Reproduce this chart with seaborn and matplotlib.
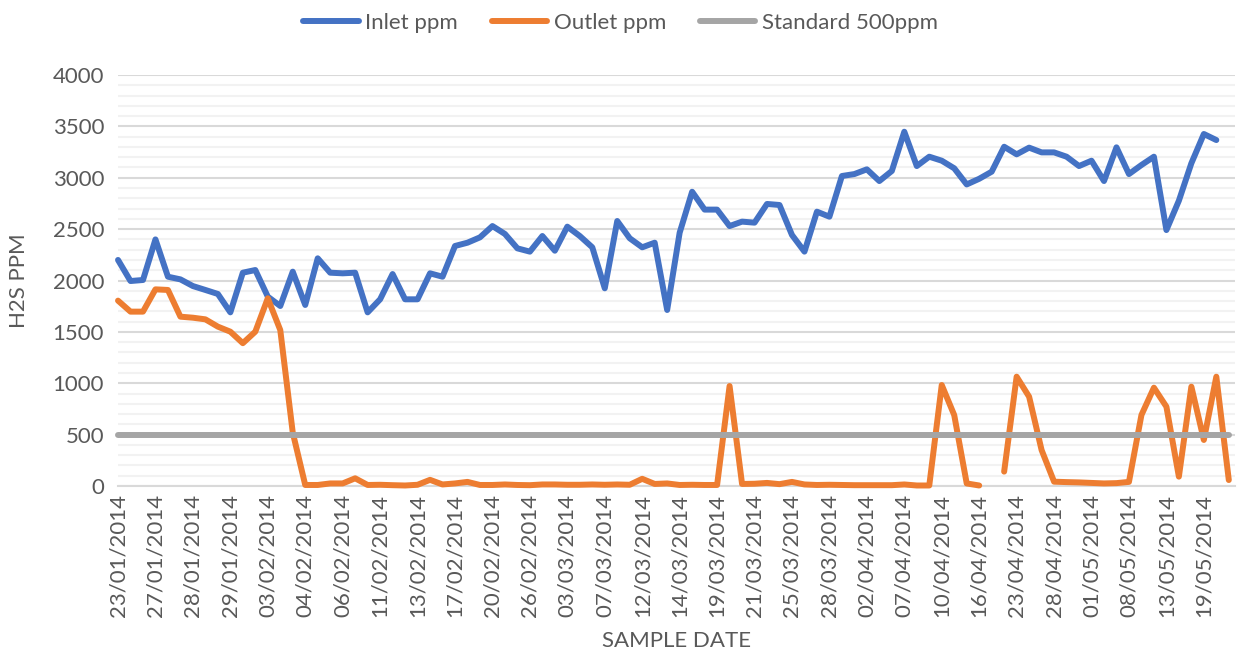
"""
H2S inlet / outlet ppm against sample date, seaborn line chart
"""
import numpy as np
import pandas as pd
import seaborn as sns
import matplotlib.pyplot as plt
from matplotlib.lines import Line2D

# tick labels (every third sample is labelled on the axis)
date_labels = ["23/01/2014", "27/01/2014", "28/01/2014", "29/01/2014", "03/02/2014",
               "04/02/2014", "06/02/2014", "11/02/2014", "13/02/2014", "17/02/2014",
               "20/02/2014", "26/02/2014", "03/03/2014", "07/03/2014", "12/03/2014",
               "14/03/2014", "19/03/2014", "21/03/2014", "25/03/2014", "28/03/2014",
               "02/04/2014", "07/04/2014", "10/04/2014", "16/04/2014", "23/04/2014",
               "28/04/2014", "01/05/2014", "08/05/2014", "13/05/2014", "19/05/2014"]
label_step = 3

inlet = [2200, 1995, 2005, 2400, 2037, 2011, 1946, 1908, 1869, 1690,
         2076, 2102, 1843, 1752, 2086, 1762, 2216, 2076, 2070, 2076,
         1690, 1817, 2063, 1817, 1817, 2070, 2037, 2336, 2368, 2420,
         2530, 2453, 2313, 2281, 2433, 2290, 2524, 2433, 2323, 1924,
         2579, 2411, 2323, 2368, 1713, 2465, 2864, 2690, 2690, 2530,
         2573, 2563, 2745, 2735, 2443, 2281, 2670, 2621, 3017, 3036,
         3082, 2968, 3066, 3448, 3114, 3205, 3166, 3092, 2935, 2990,
         3059, 3302, 3228, 3293, 3247, 3247, 3205, 3114, 3166, 2968,
         3296, 3036, 3124, 3205, 2491, 2777, 3141, 3426, 3367, np.nan]

outlet = [1804, 1697, 1697, 1914, 1908, 1648, 1638, 1622, 1551, 1502,
          1390, 1502, 1827, 1518, 520, 10, 10, 25, 25, 75,
          10, 12, 8, 5, 12, 60, 15, 25, 40, 10,
          10, 15, 10, 8, 15, 15, 12, 12, 15, 12,
          15, 12, 70, 20, 25, 10, 12, 10, 10, 973,
          20, 22, 30, 18, 40, 15, 10, 12, 10, 8,
          8, 8, 8, 15, 5, 5, 983, 690, 25, 5,
          np.nan, 140, 1064, 869, 350, 42, 38, 35, 30, 25,
          28, 40, 691, 957, 772, 91, 967, 448, 1064, 58]

standard = 500

sample = np.arange(len(inlet))

df = pd.DataFrame({"sample": sample, "inlet": inlet, "outlet": outlet})
df["standard"] = standard
# break lines where a value is missing
for col in ["inlet", "outlet"]:
    df[col + "_seg"] = df[col].isna().cumsum()

sns.set_style("white")
plt.rcParams["font.family"] = ["Lato", "DejaVu Sans"]
txt = "#595959"

fig = plt.figure(figsize=(12.41, 6.5), dpi=100)
ax = fig.add_axes([0.0951, 0.2523, 0.9001, 0.6323])

lw = 4.3
style = dict(linewidth=lw, solid_capstyle="round", solid_joinstyle="round",
             clip_on=False)
sns.lineplot(data=df, x="sample", y="inlet", units="inlet_seg", estimator=None,
             color="#4472C4", ax=ax, zorder=3, **style)
sns.lineplot(data=df, x="sample", y="outlet", units="outlet_seg", estimator=None,
             color="#ED7D31", ax=ax, zorder=4, **style)
sns.lineplot(data=df, x="sample", y="standard", color="#A5A5A5", ax=ax,
             zorder=5, **style)

ax.set_ylim(0, 4000)
ax.set_xlim(0, 89.5)
ax.set_yticks(range(0, 4001, 500))
ax.set_yticks(range(0, 4001, 100), minor=True)
ax.grid(which="major", axis="y", color="#D9D9D9", linewidth=1.5, zorder=0)
ax.grid(which="minor", axis="y", color="#F2F2F2", linewidth=1.5, zorder=0)
ax.set_axisbelow(True)

ax.set_xticks(sample[::label_step])
ax.set_xticklabels(date_labels, rotation=90)
ax.tick_params(axis="both", length=0, labelsize=16, labelcolor=txt)
ax.tick_params(axis="x", pad=6)
ax.tick_params(axis="y", pad=10)

for s in ["top", "right", "left"]:
    ax.spines[s].set_visible(False)
ax.spines["bottom"].set_color("#D9D9D9")
ax.spines["bottom"].set_linewidth(1.5)

ax.set_xlabel("SAMPLE DATE", fontsize=16, color=txt, labelpad=10)
ax.set_ylabel("H2S PPM", fontsize=16, color=txt, labelpad=17)

handles = [Line2D([], [], color="#4472C4", linewidth=lw),
           Line2D([], [], color="#ED7D31", linewidth=lw),
           Line2D([], [], color="#A5A5A5", linewidth=lw)]
fig.legend(handles, ["Inlet ppm", "Outlet ppm", "Standard 500ppm"],
           loc="center", bbox_to_anchor=(0.5, 0.965), ncol=3, frameon=False,
           fontsize=16, labelcolor=txt, handlelength=2.5, handletextpad=0.3,
           columnspacing=1.5)

fig.savefig("out.png", dpi=100)
